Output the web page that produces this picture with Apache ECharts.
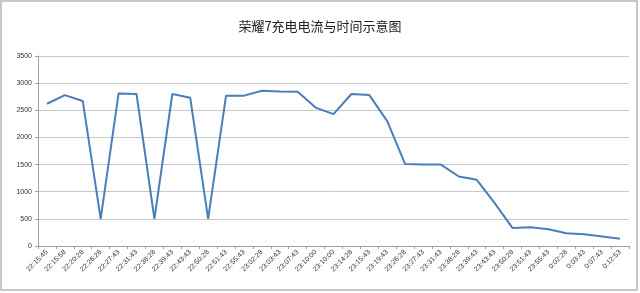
<!DOCTYPE html>
<html><head><meta charset="utf-8">
<script src="https://cdn.jsdelivr.net/npm/echarts@6/dist/echarts.min.js"></script>
<style>html,body{margin:0;padding:0;background:#fff}#c{width:640px;height:293px}</style>
</head><body><div id="c"></div>
<script>
const title = '荣耀7充电电流与时间示意图';
const categories = ['22:15:45','22:15:58','22:20:28','22:26:28','22:27:43','22:31:43','22:38:28','22:39:43','22:43:43','22:50:28','22:51:43','22:55:43','23:02:28','23:03:43','23:07:43','23:10:00','23:10:00','23:14:28','23:15:43','23:19:43','23:26:28','23:27:43','23:31:43','23:38:28','23:39:43','23:43:43','23:50:28','23:51:43','23:55:43','0:02:28','0:03:43','0:07:43','0:12:53'];
const current = [2620,2780,2670,500,2810,2800,500,2800,2730,500,2770,2770,2860,2845,2840,2550,2430,2800,2780,2300,1510,1500,1500,1280,1220,790,330,345,310,235,215,175,135];
const yTicks = {min:0, max:3500, interval:500};

const chart = echarts.init(document.getElementById('c'), null, {renderer:'canvas'});
chart.setOption({
  animation:false,
  backgroundColor:'#fff',
  title:{text:title,left:'center',top:15,textStyle:{fontFamily:'Noto Sans CJK SC',fontSize:13,fontWeight:'normal',color:'#222'}},
  graphic:[{type:'rect',shape:{x:1,y:1,width:636,height:289},style:{fill:null,stroke:'#c8c8c8',lineWidth:2},silent:true}],
  grid:{left:38,right:11,top:56,bottom:47},
  xAxis:{type:'category',data:categories,boundaryGap:true,
    axisLine:{lineStyle:{color:'#a0a0a0'}},
    axisTick:{show:true,length:3,lineStyle:{color:'#a0a0a0'}},
    axisLabel:{rotate:45,fontSize:7,color:'#333',margin:5,interval:0,fontFamily:'Liberation Sans'}},
  yAxis:{type:'value',min:yTicks.min,max:yTicks.max,interval:yTicks.interval,
    axisLine:{show:true,lineStyle:{color:'#a0a0a0'}},
    axisTick:{show:true,length:3,lineStyle:{color:'#a0a0a0'}},
    splitLine:{lineStyle:{color:'#c8c8c8'}},
    axisLabel:{fontSize:7,color:'#333',margin:6,fontFamily:'Liberation Sans',formatter:v=>String(v)}},
  series:[{type:'line',data:current,symbol:'none',lineStyle:{color:'#4a7ebb',width:2}}]
});
</script></body></html>
